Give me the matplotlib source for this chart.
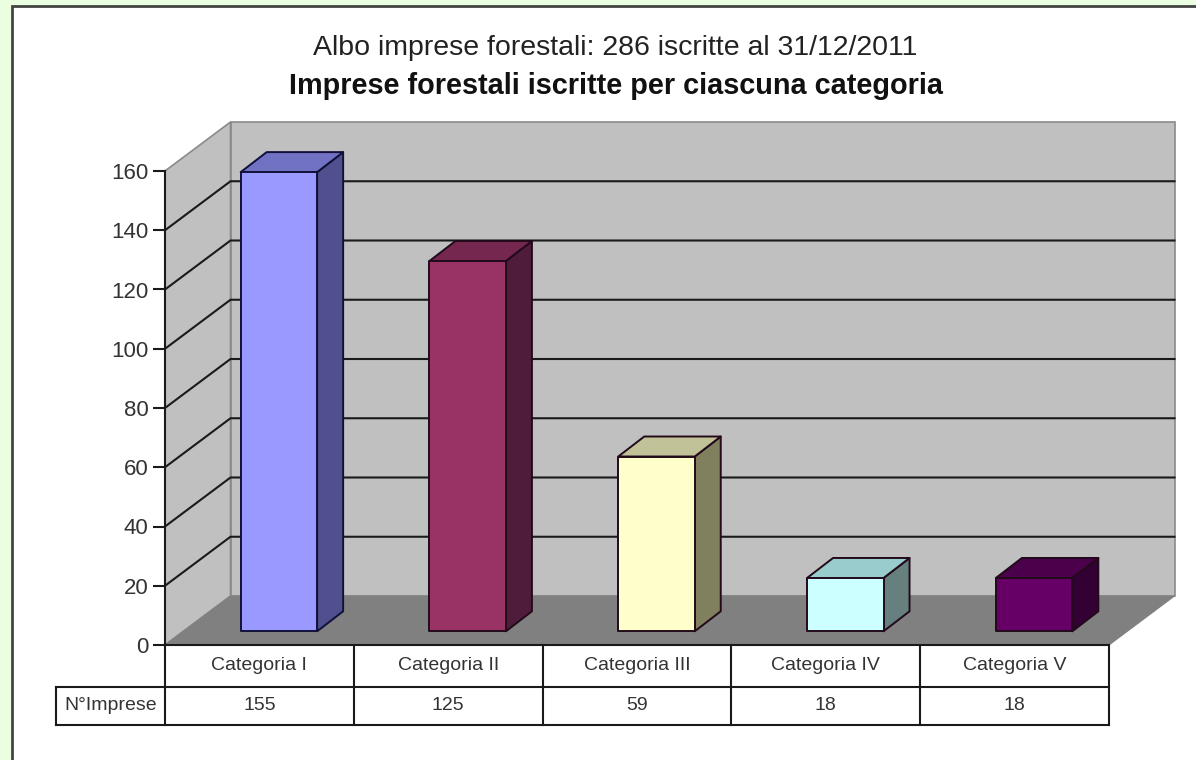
import matplotlib
matplotlib.use("Agg")
import matplotlib.pyplot as plt
from matplotlib.patches import Polygon, Rectangle

plt.rcParams['font.family'] = ['Liberation Sans', 'DejaVu Sans']

categories = ["Categoria I", "Categoria II", "Categoria III", "Categoria IV", "Categoria V"]
values = [155, 125, 59, 18, 18]
row_label = "N°Imprese"
title_line1 = "Albo imprese forestali: 286 iscritte al 31/12/2011"
title_line2 = "Imprese forestali iscritte per ciascuna categoria"
y_ticks = [0, 20, 40, 60, 80, 100, 120, 140, 160]
front_colors = ["#9999FF", "#993366", "#FFFFCC", "#CCFFFF", "#660066"]
top_colors = ["#7272C4", "#762750", "#C2C298", "#99CCCC", "#4A004A"]
side_colors = ["#50508E", "#4F1D3B", "#80805F", "#668080", "#330033"]

W, H = 1196, 760
fig = plt.figure(figsize=(W / 100, H / 100), dpi=100, facecolor="#E9FFE0")

def fx(px): return px / W
def fy(py): return 1 - py / H

# white panel with dark frame, open to the right and bottom edges
fig.patches.append(Rectangle((fx(12), -0.01), 1.01 - fx(12), fy(6) + 0.01, transform=fig.transFigure,
                             facecolor="white", edgecolor="#444444", linewidth=2, zorder=-1))

# axes rectangle = front plane of the 3D box
L, R, T, B = 165, 1109, 171, 645
ax = fig.add_axes([fx(L), fy(B), fx(R) - fx(L), fy(T) - fy(B)])
ax.set_xlim(0, 5)
ax.set_ylim(0, 160)
ax.patch.set_visible(False)

DX = 65.5 / (R - L) * 5      # box depth in x data units
DY = 49 / (B - T) * 160      # box depth in y data units
BAR_W = 0.405
BAR_DX, BAR_DY = 26 / (R - L) * 5, 20 / (B - T) * 160
BASE_DX, BASE_DY = 19.5 / (R - L) * 5, 13.7 / (B - T) * 160

def poly(pts, **kw):
    kw.setdefault("clip_on", False)
    ax.add_patch(Polygon(pts, closed=True, **kw))

# walls and floor
poly([(DX, DY), (5 + DX, DY), (5 + DX, 160 + DY), (DX, 160 + DY)],
     facecolor="#C0C0C0", edgecolor="#8A8A8A", linewidth=1.2, zorder=1)
poly([(0, 0), (DX, DY), (DX, 160 + DY), (0, 160)],
     facecolor="#C0C0C0", edgecolor="#8A8A8A", linewidth=1.2, zorder=1)
poly([(0, 0), (5, 0), (5 + DX, DY), (DX, DY)],
     facecolor="#808080", edgecolor="#808080", linewidth=0.8, zorder=1.5)

# gridlines on left and back walls
for v in y_ticks[1:-1]:
    ax.plot([0, DX, 5 + DX], [v, v + DY, v + DY], color="#1A1A1A", lw=1.5, zorder=2, clip_on=False)

# bars
for i, v in enumerate(values):
    x0 = i + 0.5 - BAR_W / 2 + BASE_DX
    x1 = x0 + BAR_W
    y0 = BASE_DY
    y1 = BASE_DY + v
    edge = "#10103A" if i == 0 else "#220A1A"
    style = dict(edgecolor=edge, linewidth=1.4, joinstyle="round", zorder=3)
    poly([(x1, y0), (x1 + BAR_DX, y0 + BAR_DY), (x1 + BAR_DX, y1 + BAR_DY), (x1, y1)],
         facecolor=side_colors[i], **style)
    poly([(x0, y1), (x1, y1), (x1 + BAR_DX, y1 + BAR_DY), (x0 + BAR_DX, y1 + BAR_DY)],
         facecolor=top_colors[i], **style)
    poly([(x0, y0), (x1, y0), (x1, y1), (x0, y1)], facecolor=front_colors[i], **style)

# axis
for s in ("top", "right", "bottom"):
    ax.spines[s].set_visible(False)
ax.spines["left"].set_linewidth(1.5)
ax.spines["left"].set_color("#1A1A1A")
ax.set_xticks([])
ax.set_yticks(y_ticks)
ax.tick_params(axis="y", length=9, width=1.5, color="#1A1A1A", pad=3, labelsize=16, labelcolor="#333333")

# data table below the axes
ROW1 = -(687 - B) / (B - T) * 160
ROW2 = -(725 - B) / (B - T) * 160
HEAD = -(L - 56) / (R - L) * 5
line = dict(color="#1A1A1A", lw=1.5, clip_on=False, zorder=4, solid_capstyle="projecting")
ax.plot([0, 5], [0, 0], **line)
ax.plot([HEAD, 5], [ROW1, ROW1], **line)
ax.plot([HEAD, 5], [ROW2, ROW2], **line)
ax.plot([HEAD, HEAD], [ROW1, ROW2], **line)
for i in range(6):
    ax.plot([i, i], [0, ROW2], **line)
TABLE_FS = 14
for i, (c, v) in enumerate(zip(categories, values)):
    ax.text(i + 0.5, ROW1 / 2, c, ha="center", va="center", fontsize=TABLE_FS, color="#333333", clip_on=False)
    ax.text(i + 0.5, (ROW1 + ROW2) / 2, str(v), ha="center", va="center", fontsize=TABLE_FS, color="#333333", clip_on=False)
ax.text(HEAD / 2, (ROW1 + ROW2) / 2, row_label, ha="center", va="center", fontsize=TABLE_FS, color="#333333", clip_on=False)

# titles
fig.text(fx(615), fy(48), title_line1, ha="center", va="center", fontsize=20.5, color="#222222")
fig.text(fx(616), fy(86), title_line2, ha="center", va="center", fontsize=20.8, fontweight="bold", color="#111111")

fig.savefig("out.png", dpi=100, facecolor=fig.get_facecolor())
